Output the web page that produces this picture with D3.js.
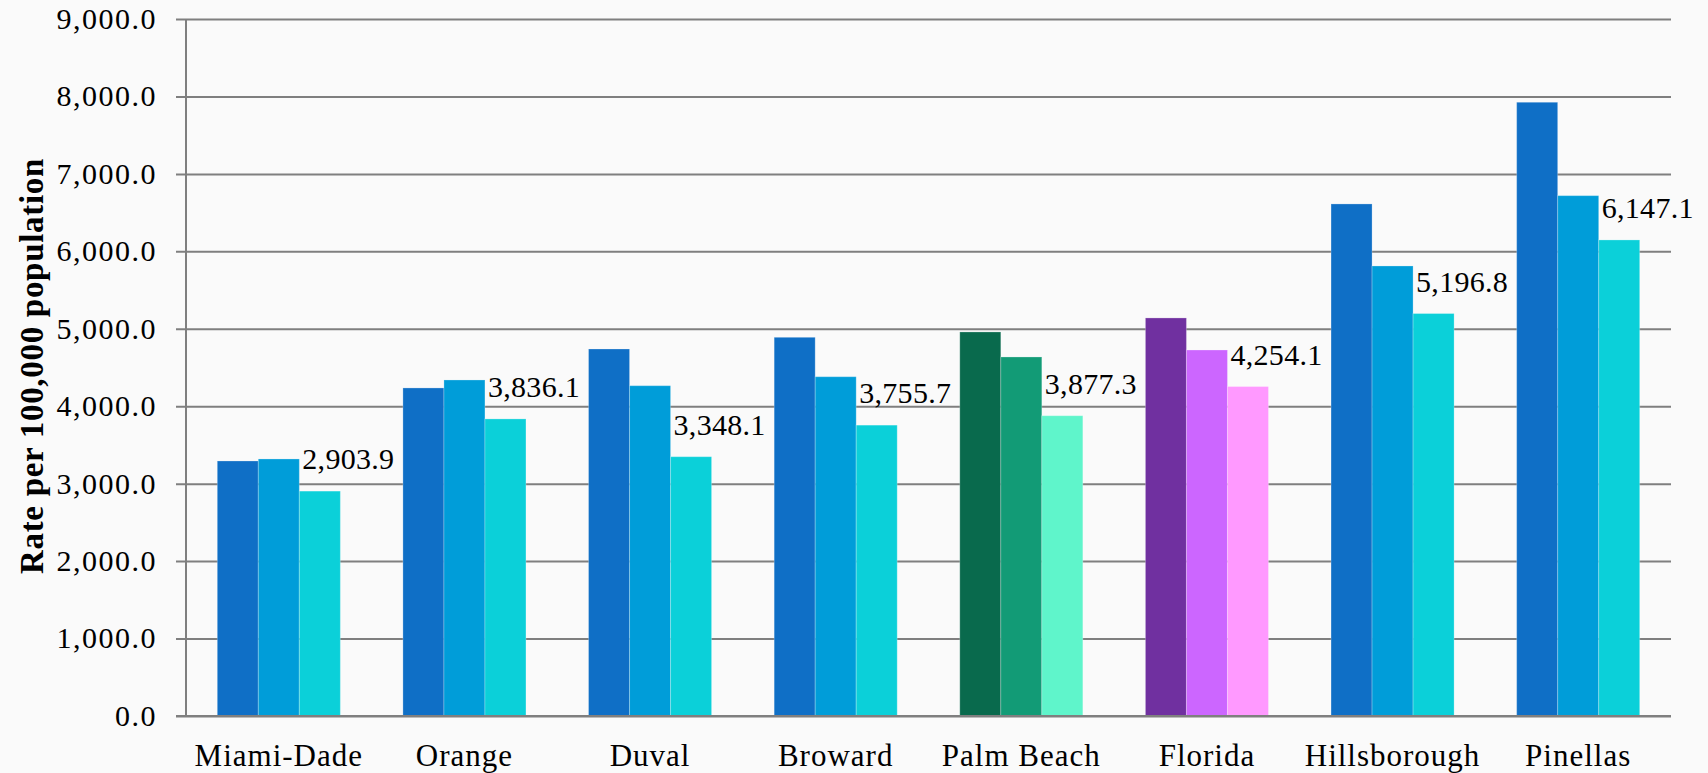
<!DOCTYPE html>
<html>
<head>
<meta charset="utf-8">
<script src="https://d3js.org/d3.v7.min.js"></script>
<style>
  html, body { margin: 0; padding: 0; background: #fafafa; }
  svg { display: block; }
  text { font-family: "Liberation Serif", "DejaVu Serif", serif; fill: #000; }
  .grid line { stroke: #7f7f7f; stroke-width: 2; }
  .grid .domain { display: none; }
</style>
</head>
<body>
<svg width="1708" height="773"></svg>
<script>
  // counties + state, three rates per place
  var categories = ["Miami-Dade","Orange","Duval","Broward","Palm Beach","Florida","Hillsborough","Pinellas"];
  var rate1 = [3293, 4236, 4739, 4890, 4959, 5140, 6612, 7925];
  var rate2 = [3319, 4339, 4265, 4381, 4636, 4726, 5811, 6719];
  var rate3 = [2903.9, 3836.1, 3348.1, 3755.7, 3877.3, 4254.1, 5196.8, 6147.1];
  var yTicks = [0, 1000, 2000, 3000, 4000, 5000, 6000, 7000, 8000, 9000];

  // colour sets: Palm Beach in greens, Florida in purples, the rest in blues
  var blues = ["#0f6fc6","#009dd9","#0bd0d9"];
  var greens = ["#096a4d","#129b76","#5ff5cb"];
  var purples = ["#7030a0","#cc66ff","#ff99ff"];
  function colorsFor(c) {
    if (c == "Palm Beach") return greens;
    if (c == "Florida") return purples;
    return blues;
  }

  var plotLeft = 186, plotRight = 1671, plotTop = 19, plotBottom = 716;
  var svg = d3.select("svg");

  var x0 = d3.scaleBand().domain(categories).range([plotLeft, plotRight]);
  var x1 = d3.scaleBand().domain([0,1,2]).range([0, x0.bandwidth()]).paddingOuter(0.763);
  var y = d3.scaleLinear().domain([0, 9000]).range([plotBottom, plotTop]);

  // gridlines + y ticks
  svg.append("g")
    .attr("class", "grid")
    .attr("transform", "translate(" + plotLeft + ",0)")
    .call(d3.axisLeft(y).tickValues(yTicks).tickSize(-(plotRight - plotLeft)).tickSizeOuter(0).tickFormat(""));
  svg.select(".grid").selectAll(".tick line").attr("x1", -10);

  svg.append("g").selectAll("text")
    .data(yTicks)
    .enter()
    .append("text")
    .attr("x", 157)
    .attr("y", function(d){ return y(d); })
    .attr("dy", "0.33em")
    .attr("text-anchor", "end")
    .style("font-size", "30px")
    .style("letter-spacing", "1.5px")
    .text(function(d){ return d3.format(",.1f")(d); });

  // bars
  var rows = categories.map(function(c, i){ return {cat: c, vals: [rate1[i], rate2[i], rate3[i]]}; });
  var groups = svg.append("g").selectAll("g")
    .data(rows)
    .enter()
    .append("g")
    .attr("transform", function(d){ return "translate(" + x0(d.cat) + ",0)"; });

  groups.selectAll("rect")
    .data(function(d){ return d.vals.map(function(v, j){ return {cat: d.cat, v: v, j: j}; }); })
    .enter()
    .append("rect")
    .attr("x", function(d){ return x1(d.j); })
    .attr("width", x1.bandwidth())
    .attr("y", function(d){ return y(d.v); })
    .attr("height", function(d){ return plotBottom - y(d.v); })
    .attr("fill", function(d){ return colorsFor(d.cat)[d.j]; })
    .attr("stroke", "rgba(255,255,255,0.25)")
    .attr("stroke-width", 1);

  // axis lines on top
  svg.append("line").attr("x1", plotLeft).attr("x2", plotLeft).attr("y1", plotTop).attr("y2", plotBottom)
    .attr("stroke", "#7f7f7f").attr("stroke-width", 2);
  svg.append("line").attr("x1", plotLeft - 10).attr("x2", plotRight).attr("y1", plotBottom).attr("y2", plotBottom)
    .attr("stroke", "#7f7f7f").attr("stroke-width", 2);

  // data labels for the third series
  groups.append("text")
    .attr("x", function(d){ return x1(2) + 3; })
    .attr("y", function(d){ return y(d.vals[2]) - 22; })
    .style("font-size", "30px")
    .style("letter-spacing", "0.3px")
    .text(function(d){ return d3.format(",.1f")(d.vals[2]); });

  // category labels
  svg.append("g").selectAll("text")
    .data(categories)
    .enter()
    .append("text")
    .attr("x", function(d){ return x0(d) + x0.bandwidth() / 2; })
    .attr("y", 766)
    .attr("text-anchor", "middle")
    .style("font-size", "31px")
    .style("letter-spacing", "1px")
    .text(function(d){ return d; });

  // y title
  svg.append("text")
    .attr("transform", "translate(43,366) rotate(-90)")
    .attr("text-anchor", "middle")
    .style("font-size", "33px")
    .style("font-weight", "bold")
    .style("letter-spacing", "0.7px")
    .text("Rate per 100,000 population");
</script>
</body>
</html>
